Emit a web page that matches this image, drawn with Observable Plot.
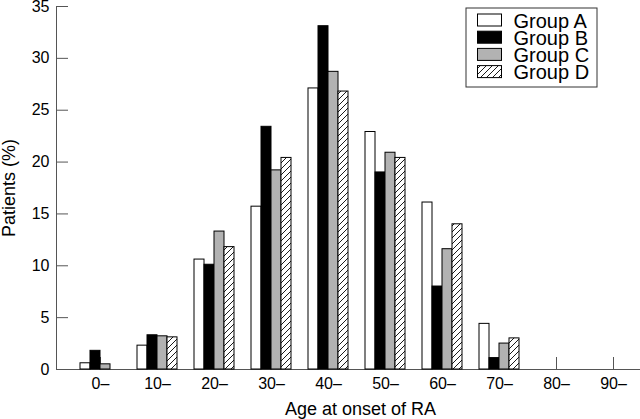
<!DOCTYPE html>
<html>
<head>
<meta charset="utf-8">
<script src="https://cdn.jsdelivr.net/npm/d3@7"></script>
<script src="https://cdn.jsdelivr.net/npm/@observablehq/plot@0.6"></script>
<style>
  html, body { margin: 0; padding: 0; background: #fff; }
  #chart { position: relative; width: 640px; height: 419px; }
</style>
</head>
<body>
<div id="chart"></div>
<script>
const ages = ["0", "10", "20", "30", "40", "50", "60", "70", "80", "90"];
const groups = ["Group A", "Group B", "Group C", "Group D"];
const groupA = [0.6, 2.3, 10.6, 15.7, 27.1, 22.9, 16.1, 4.4, 0, 0];
const groupB = [1.8, 3.3, 10.1, 23.4, 33.1, 19.0, 8.0, 1.1, 0, 0];
const groupC = [0.5, 3.2, 13.3, 19.2, 28.7, 20.9, 11.6, 2.5, 0, 0];
const groupD = [0.0, 3.1, 11.8, 20.4, 26.8, 20.4, 14.0, 3.0, 0, 0];
const yTicks = [0, 5, 10, 15, 20, 25, 30, 35];
const xTitle = "Age at onset of RA";
const yTitle = "Patients (%)";

const series = [groupA, groupB, groupC, groupD];
const fills = ["white", "black", "#b2b2b2", "url(#hatch)"];
const font = "'Liberation Sans', Arial, Helvetica, sans-serif";
const axisColor = "#555";
const barW = 10;

const barMarks = series.map((vals, i) =>
  Plot.barY(ages.map((a, j) => ({age: a, value: vals[j]})).filter(d => d.value > 0), {
    x: "age",
    y: "value",
    fill: fills[i],
    stroke: "black",
    strokeWidth: 1,
    insetLeft: i * barW,
    insetRight: (series.length - 1 - i) * barW
  })
);

const svg = Plot.plot({
  width: 640,
  height: 419,
  marginLeft: 56,
  marginRight: 0,
  marginTop: 6,
  marginBottom: 50,
  style: {fontFamily: font, color: "black", background: "white"},
  x: {type: "band", domain: ages, range: [70.4, 642.4], paddingInner: 0.3, paddingOuter: 0.15},
  y: {domain: [0, 35]},
  marks: [
    Plot.axisY({ticks: yTicks, tickSize: -12, tickPadding: 19, fontSize: 16, stroke: axisColor, fill: "black", label: null}),
    Plot.axisX({tickFormat: d => d + "–", tickSize: -12, tickPadding: 20, fontSize: 16, stroke: axisColor, fill: "black", label: null}),
    Plot.frame({anchor: "left", stroke: axisColor}),
    Plot.ruleY([0], {stroke: axisColor}),
    ...barMarks,
    Plot.text([xTitle], {frameAnchor: "bottom", textAnchor: "middle", lineAnchor: "middle", dx: 12, dy: 39.5, fontSize: 18, fill: "black"}),
    Plot.text([yTitle], {frameAnchor: "left", textAnchor: "middle", lineAnchor: "middle", dx: -47, rotate: -90, fontSize: 18, fill: "black"}),
    // legend box in the top-right corner of the frame
    Plot.frame({stroke: "#333", fill: "white", insetLeft: 409.5, insetRight: 43.5, insetTop: 1.5, insetBottom: 282.5}),
    Plot.text(groups, {frameAnchor: "top-right", text: d => d, textAnchor: "start", fontSize: 20, fill: "black"})
  ]
});

const s = d3.select(svg);
const defs = s.insert("defs", ":first-child");
const pat = defs.append("pattern")
  .attr("id", "hatch")
  .attr("patternUnits", "userSpaceOnUse")
  .attr("width", 6).attr("height", 6);
pat.append("rect").attr("width", 6).attr("height", 6).attr("fill", "white");
pat.append("path")
  .attr("d", "M-1,1 L1,-1 M0,6 L6,0 M5,7 L7,5")
  .attr("stroke", "black").attr("stroke-width", 0.9);

// lay out legend rows (swatches + labels)
const lg = s.append("g");
const legendTexts = s.selectAll("g[aria-label='text']").filter((d, i) => i === 2).selectAll("text");
legendTexts.each(function(d, i) {
  const cy = 20 + i * 17.2;
  d3.select(this).attr("transform", null).attr("x", 513).attr("y", cy).attr("dy", "0.36em");
  lg.append("rect").attr("x", 477.5).attr("y", cy - 6).attr("width", 24).attr("height", 12)
    .attr("fill", fills[i]).attr("stroke", "black").attr("stroke-width", 1);
});

document.getElementById("chart").appendChild(svg);
</script>
</body>
</html>
